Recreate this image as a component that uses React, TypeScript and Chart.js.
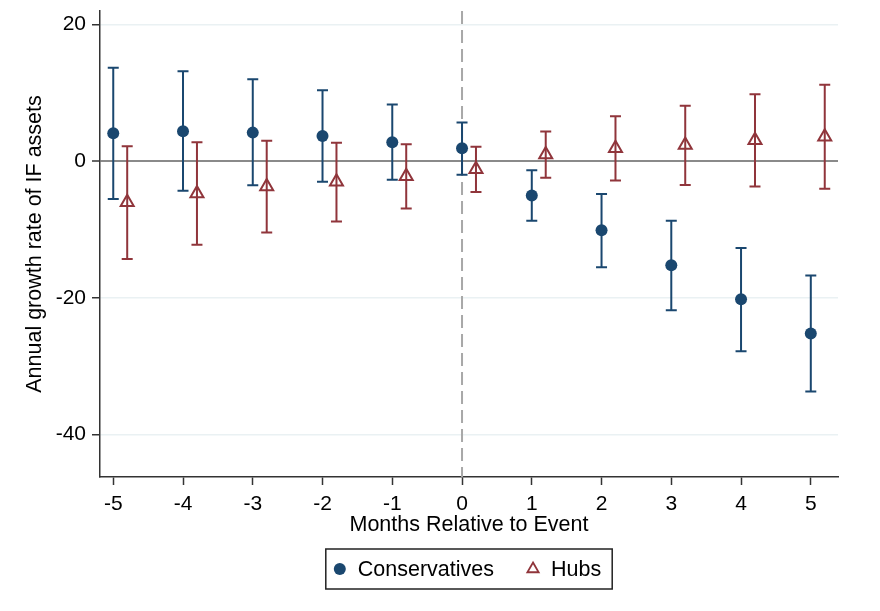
import { useEffect, useRef } from "react";
import { Chart, registerables, Plugin } from "chart.js";

Chart.register(...registerables);

// months relative to the event
const months = [-5, -4, -3, -2, -1, 0, 1, 2, 3, 4, 5];

// Conservatives: estimate and 95% CI
const consEst = [4.1, 4.4, 4.2, 3.7, 2.8, 1.9, -5.0, -10.1, -15.2, -20.2, -25.2];
const consLo = [-5.5, -4.3, -3.5, -3.0, -2.7, -1.95, -8.7, -15.5, -21.8, -27.8, -33.7];
const consHi = [13.7, 13.2, 12.0, 10.4, 8.3, 5.7, -1.3, -4.8, -8.7, -12.7, -16.7];

// Hubs: estimate and 95% CI
const hubsEst = [-6.0, -4.7, -3.7, -3.0, -2.2, -1.15, 1.0, 1.9, 2.4, 3.1, 3.6];
const hubsLo = [-14.3, -12.2, -10.4, -8.8, -6.9, -4.5, -2.4, -2.8, -3.45, -3.7, -4.0];
const hubsHi = [2.2, 2.8, 3.0, 2.7, 2.5, 2.15, 4.35, 6.6, 8.15, 9.8, 11.2];

const yTicks = [-40, -20, 0, 20];

const NAVY = "#1a476f";
const MAROON = "#90353b";
const FONT = "'Liberation Sans', Arial, sans-serif";
const HUBS_SHIFT = 0.2; // hubs drawn slightly right of the month

// error bars + dashed event line, drawn under the markers
const ciBars: Plugin<"scatter"> = {
  id: "ciBars",
  beforeDatasetsDraw(chart) {
    const { ctx, chartArea, scales } = chart;
    const xs = scales.x;
    const ys = scales.y;
    ctx.save();
    const x0 = xs.getPixelForValue(0);
    ctx.strokeStyle = "#a8a8a8";
    ctx.lineWidth = 2;
    ctx.setLineDash([13, 6]);
    ctx.beginPath();
    ctx.moveTo(x0, chartArea.top);
    ctx.lineTo(x0, chartArea.bottom);
    ctx.stroke();
    ctx.setLineDash([]);

    chart.data.datasets.forEach((ds: any) => {
      ctx.strokeStyle = ds.ciColor;
      ctx.lineWidth = 2;
      ds.data.forEach((p: any) => {
        const px = xs.getPixelForValue(p.x);
        const top = ys.getPixelForValue(p.hi);
        const bot = ys.getPixelForValue(p.lo);
        ctx.beginPath();
        ctx.moveTo(px, top);
        ctx.lineTo(px, bot);
        ctx.moveTo(px - 5.5, top);
        ctx.lineTo(px + 5.5, top);
        ctx.moveTo(px - 5.5, bot);
        ctx.lineTo(px + 5.5, bot);
        ctx.stroke();
      });
    });
    ctx.restore();
  },
};

// boxed legend below the axis title, like Stata's
const boxLegend: Plugin<"scatter"> = {
  id: "boxLegend",
  afterDraw(chart) {
    const { ctx, chartArea } = chart;
    const items = chart.data.datasets.map((ds: any) => ({
      label: ds.label as string,
      color: ds.ciColor as string,
      style: ds.pointStyle as string,
    }));
    ctx.save();
    ctx.font = `21.5px ${FONT}`;
    const marker = 12;
    const gap = 12;
    const between = 33;
    const padL = 8;
    const padR = 11;
    const widths = items.map((it) => marker + gap + ctx.measureText(it.label).width);
    const total =
      padL + padR + widths.reduce((a, b) => a + b, 0) + between * (items.length - 1);
    const cx = (chartArea.left + chartArea.right) / 2;
    const left = cx - total / 2;
    const top = 549;
    const h = 40;
    const cy = top + h / 2;

    ctx.strokeStyle = "#222";
    ctx.lineWidth = 1.5;
    ctx.strokeRect(left, top, total, h);

    let x = left + padL;
    items.forEach((it, i) => {
      const mx = x + marker / 2;
      if (it.style === "triangle") {
        const r = 6.5;
        ctx.strokeStyle = it.color;
        ctx.lineWidth = 1.8;
        ctx.beginPath();
        ctx.moveTo(mx, cy - r);
        ctx.lineTo(mx + r * 0.866, cy + r / 2);
        ctx.lineTo(mx - r * 0.866, cy + r / 2);
        ctx.closePath();
        ctx.stroke();
      } else {
        ctx.fillStyle = it.color;
        ctx.beginPath();
        ctx.arc(mx, cy, 6, 0, Math.PI * 2);
        ctx.fill();
      }
      ctx.fillStyle = "#000";
      ctx.textBaseline = "middle";
      ctx.textAlign = "left";
      ctx.fillText(it.label, x + marker + gap, cy + 1);
      x += widths[i] + between;
    });
    ctx.restore();
  },
};

const App = () => {
  const canvasRef = useRef<HTMLCanvasElement | null>(null);

  useEffect(() => {
    if (!canvasRef.current) return;

    const chart = new Chart(canvasRef.current, {
      type: "scatter",
      data: {
        datasets: [
          {
            label: "Conservatives",
            data: months.map((m, i) => ({ x: m, y: consEst[i], lo: consLo[i], hi: consHi[i] })) as any,
            pointStyle: "circle",
            pointRadius: 6,
            pointBackgroundColor: NAVY,
            pointBorderColor: NAVY,
            pointBorderWidth: 0,
            ciColor: NAVY,
          } as any,
          {
            label: "Hubs",
            data: months.map((m, i) => ({
              x: m + HUBS_SHIFT,
              y: hubsEst[i],
              lo: hubsLo[i],
              hi: hubsHi[i],
            })) as any,
            pointStyle: "triangle",
            pointRadius: 7.5,
            pointBackgroundColor: "rgba(0,0,0,0)",
            pointBorderColor: MAROON,
            pointBorderWidth: 2,
            ciColor: MAROON,
          } as any,
        ],
      },
      options: {
        animation: false,
        responsive: true,
        maintainAspectRatio: false,
        layout: { padding: { top: 11, right: 42, bottom: 74, left: 0 } },
        plugins: {
          legend: { display: false },
          tooltip: { enabled: false },
        },
        scales: {
          x: {
            type: "linear",
            min: -5.19,
            max: 5.39,
            afterBuildTicks: (scale) => {
              scale.ticks = months.map((v) => ({ value: v }));
            },
            afterFit: (scale: any) => {
              scale.height = 60;
              scale.paddingLeft = 0;
              scale.paddingRight = 0;
            },
            ticks: {
              color: "#000",
              font: { family: FONT, size: 21 },
              padding: 7,
              maxRotation: 0,
            },
            grid: {
              drawOnChartArea: false,
              drawTicks: true,
              tickLength: 8,
              tickColor: "#333",
              tickWidth: 1.5,
            },
            border: { color: "#333", width: 1.5 },
            title: {
              display: true,
              text: "Months Relative to Event",
              color: "#000",
              font: { family: FONT, size: 21.5 },
              padding: { top: 0, bottom: -1 },
            },
          },
          y: {
            type: "linear",
            min: -46.2,
            max: 22,
            afterBuildTicks: (scale) => {
              scale.ticks = yTicks.map((v) => ({ value: v }));
            },
            afterFit: (scale: any) => {
              scale.width = 100;
              scale.paddingTop = 0;
              scale.paddingBottom = 0;
            },
            ticks: {
              color: "#000",
              font: { family: FONT, size: 21 },
              padding: 6,
            },
            grid: {
              color: (c: any) => (c.tick && c.tick.value === 0 ? "#8a8a8a" : "#eaf1f3"),
              lineWidth: (c: any) => (c.tick && c.tick.value === 0 ? 2 : 1.5),
              tickLength: 8,
              tickColor: "#333",
              tickWidth: 1.5,
            },
            border: { color: "#333", width: 1.5 },
            title: {
              display: true,
              text: "Annual growth rate of IF assets",
              color: "#000",
              font: { family: FONT, size: 21.5 },
              padding: { top: 22, bottom: 0 },
            },
          },
        },
      },
      plugins: [ciBars, boxLegend],
    });

    return () => {
      chart.destroy();
    };
  }, []);

  return (
    <div style={{ position: "absolute", left: 0, top: 0, width: 880, height: 611 }}>
      <canvas ref={canvasRef}></canvas>
    </div>
  );
};

export default App;
